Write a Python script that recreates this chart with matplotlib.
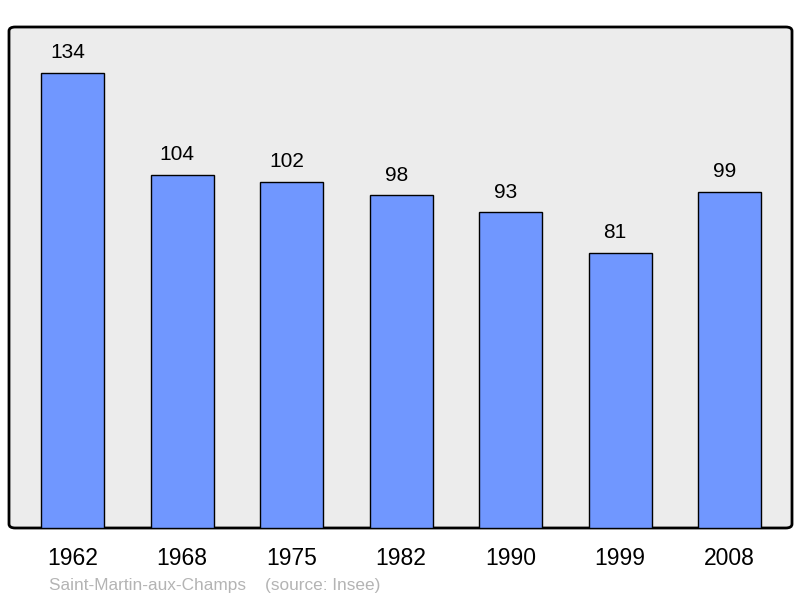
import matplotlib
matplotlib.use("Agg")
import matplotlib.pyplot as plt
from matplotlib.patches import FancyBboxPatch

years = ["1962", "1968", "1975", "1982", "1990", "1999", "2008"]
population = [134, 104, 102, 98, 93, 81, 99]

plt.rcParams["font.family"] = ["Liberation Sans", "DejaVu Sans"]

fig = plt.figure(figsize=(8, 5.98), dpi=100)
ax = fig.add_axes([9 / 800, 1 - 528 / 598, 783 / 800, 501 / 598])
ax.set_facecolor("none")
ax.set_xlim(-0.58, 6.57)
ax.set_ylim(0, 147.5)

# panel background with slightly rounded corners
panel = FancyBboxPatch((0, 0), 1, 1, boxstyle="round,pad=0,rounding_size=0.008",
                       transform=ax.transAxes, facecolor="#ececec",
                       edgecolor="black", linewidth=2, zorder=0, clip_on=False)
ax.add_patch(panel)

x = range(len(years))
ax.bar(x, population, width=0.575, color="#7097ff", edgecolor="black",
       linewidth=1, zorder=2)

for i, v in enumerate(population):
    ax.annotate(str(v), (i, v), xytext=(-3.5, 7.5), textcoords="offset points",
                ha="center", va="bottom", fontsize=15)

for s in ax.spines.values():
    s.set_visible(False)
ax.set_yticks([])
ax.set_xticks(list(x))
ax.set_xticklabels(years, fontsize=16.5)
ax.tick_params(axis="x", length=0, pad=13.5)

fig.text(49 / 800, 1 - 585.5 / 598, "Saint-Martin-aux-Champs    (source: Insee)",
         color="#b4b4b4", fontsize=12.4, va="center", ha="left")

fig.savefig("out.png", dpi=100)
